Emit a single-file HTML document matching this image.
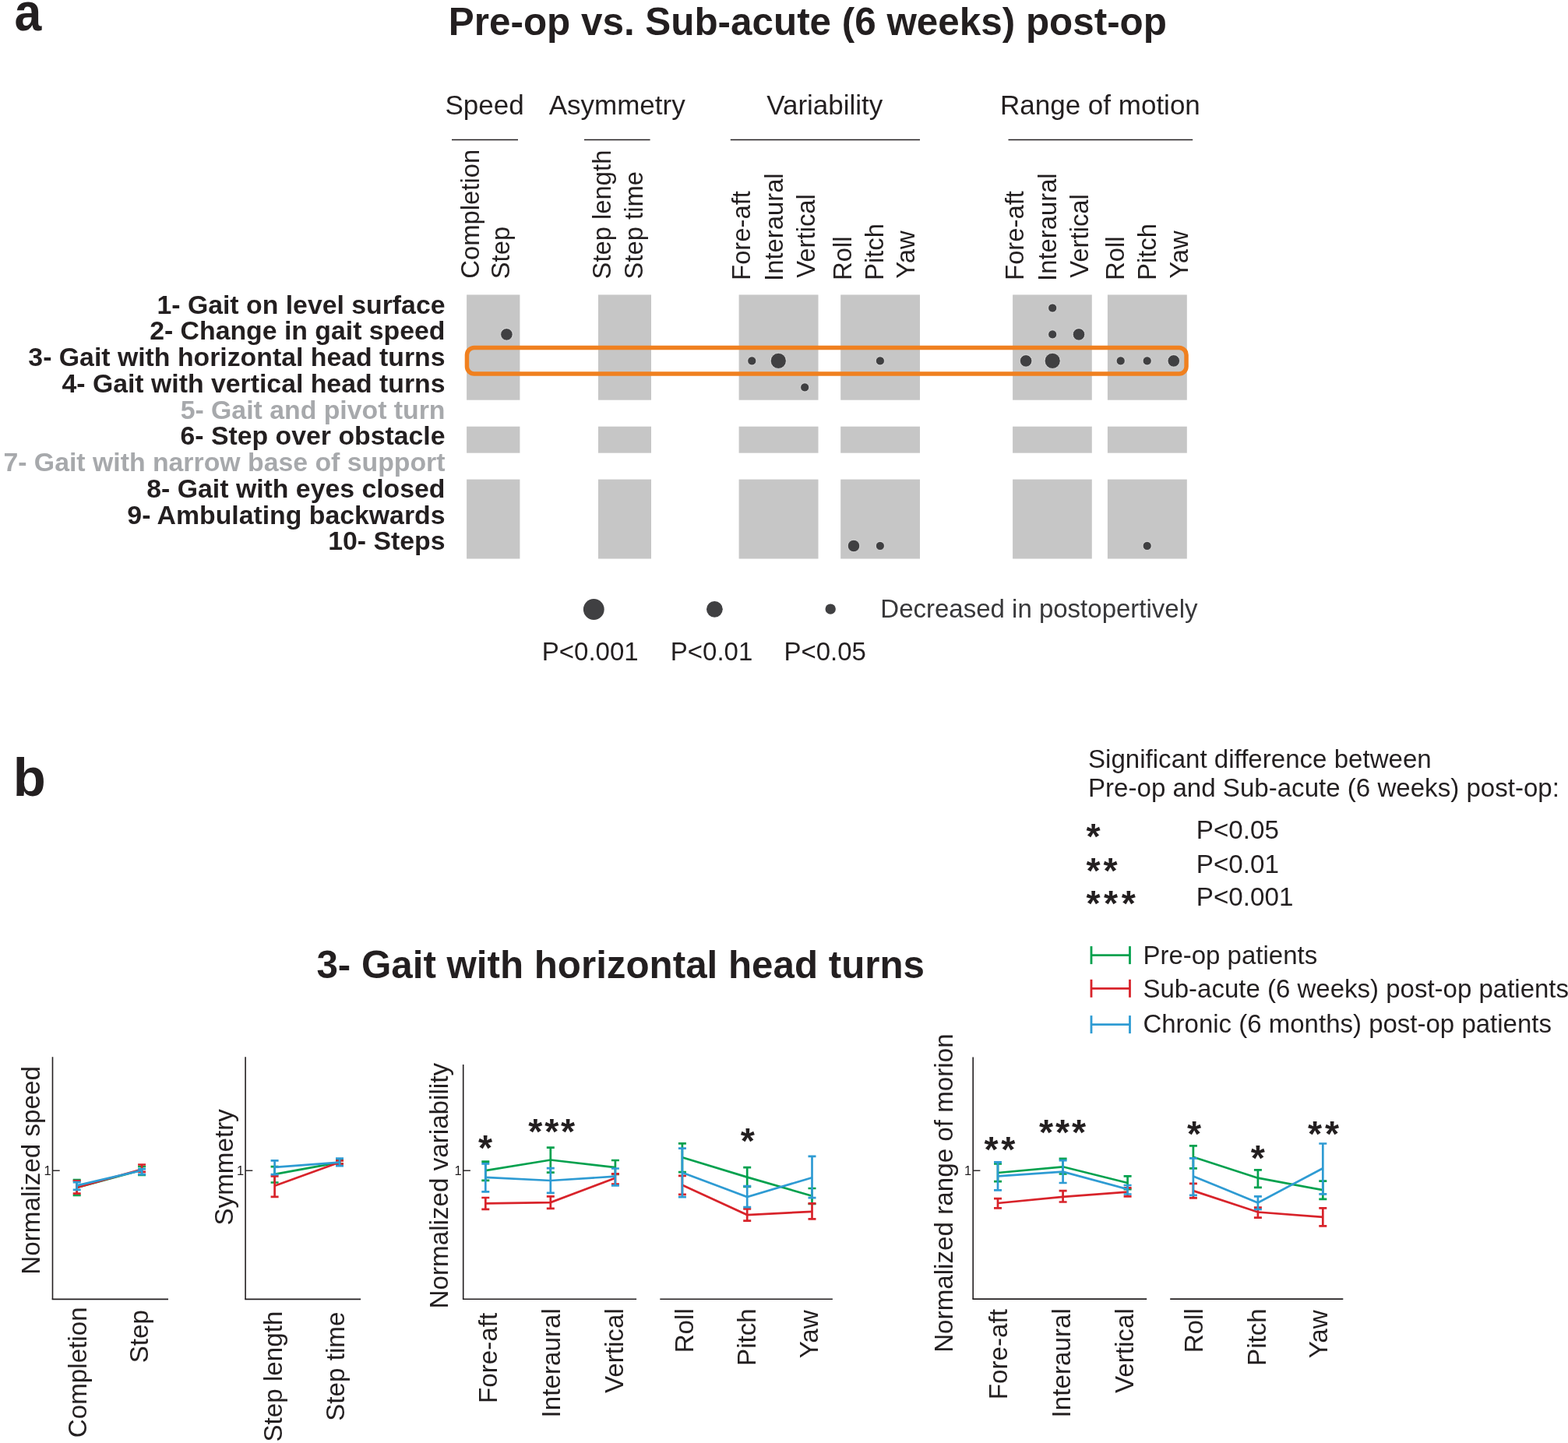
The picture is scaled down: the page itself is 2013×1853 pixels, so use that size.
<!DOCTYPE html>
<html><head><meta charset="utf-8"><title>Figure</title>
<style>html,body{margin:0;padding:0;background:#fff;overflow:hidden;width:2013px;height:1853px;}svg{display:block;}text{font-family:"Liberation Sans", Arial, sans-serif;}</style>
</head><body>
<svg width="2013" height="1853" viewBox="0 0 2013 1853">
<rect width="2013" height="1853" fill="#fff"/>
<text transform="translate(18.6,38.6) scale(0.935,1.03)" font-size="67" font-weight="bold" fill="#231f20">a</text>
<text x="575.8" y="45" font-size="49.4" font-weight="bold" fill="#231f20" text-anchor="start">Pre-op vs. Sub-acute (6 weeks) post-op</text>
<text x="571.5" y="147" font-size="35" font-weight="normal" fill="#231f20" text-anchor="start">Speed</text>
<text x="704.7" y="147" font-size="35" font-weight="normal" fill="#231f20" text-anchor="start">Asymmetry</text>
<text x="984.2" y="147" font-size="35" font-weight="normal" fill="#231f20" text-anchor="start">Variability</text>
<text x="1284" y="147" font-size="35" font-weight="normal" fill="#231f20" text-anchor="start">Range of motion</text>
<line x1="580" y1="179.4" x2="665" y2="179.4" stroke="#231f20" stroke-width="1.5"/>
<line x1="750" y1="179.4" x2="834.6" y2="179.4" stroke="#231f20" stroke-width="1.5"/>
<line x1="937.8" y1="179.4" x2="1181" y2="179.4" stroke="#231f20" stroke-width="1.5"/>
<line x1="1294.5" y1="179.4" x2="1531.2" y2="179.4" stroke="#231f20" stroke-width="1.5"/>
<text transform="translate(614.53,357.7) rotate(-90)" font-size="32.8" font-weight="normal" fill="#231f20" text-anchor="start">Completion</text>
<text transform="translate(653.93,358.3) rotate(-90)" font-size="32.8" font-weight="normal" fill="#231f20" text-anchor="start">Step</text>
<text transform="translate(783.93,358.5) rotate(-90)" font-size="32.8" font-weight="normal" fill="#231f20" text-anchor="start">Step length</text>
<text transform="translate(824.93,358.5) rotate(-90)" font-size="32.8" font-weight="normal" fill="#231f20" text-anchor="start">Step time</text>
<text transform="translate(963.33,359.9) rotate(-90)" font-size="32.8" font-weight="normal" fill="#231f20" text-anchor="start">Fore-aft</text>
<text transform="translate(1004.53,360.9) rotate(-90)" font-size="32.8" font-weight="normal" fill="#231f20" text-anchor="start">Interaural</text>
<text transform="translate(1045.93,356.7) rotate(-90)" font-size="32.8" font-weight="normal" fill="#231f20" text-anchor="start">Vertical</text>
<text transform="translate(1092.53,359.9) rotate(-90)" font-size="32.8" font-weight="normal" fill="#231f20" text-anchor="start">Roll</text>
<text transform="translate(1133.53,359.9) rotate(-90)" font-size="32.8" font-weight="normal" fill="#231f20" text-anchor="start">Pitch</text>
<text transform="translate(1173.53,357.7) rotate(-90)" font-size="32.8" font-weight="normal" fill="#231f20" text-anchor="start">Yaw</text>
<text transform="translate(1314.13,359.9) rotate(-90)" font-size="32.8" font-weight="normal" fill="#231f20" text-anchor="start">Fore-aft</text>
<text transform="translate(1356.33,360.9) rotate(-90)" font-size="32.8" font-weight="normal" fill="#231f20" text-anchor="start">Interaural</text>
<text transform="translate(1396.73,356.7) rotate(-90)" font-size="32.8" font-weight="normal" fill="#231f20" text-anchor="start">Vertical</text>
<text transform="translate(1443.33,359.9) rotate(-90)" font-size="32.8" font-weight="normal" fill="#231f20" text-anchor="start">Roll</text>
<text transform="translate(1484.33,359.9) rotate(-90)" font-size="32.8" font-weight="normal" fill="#231f20" text-anchor="start">Pitch</text>
<text transform="translate(1524.93,357.7) rotate(-90)" font-size="32.8" font-weight="normal" fill="#231f20" text-anchor="start">Yaw</text>
<text transform="translate(110.93,1678.4) rotate(-90)" font-size="33.2" font-weight="normal" fill="#231f20" text-anchor="end">Completion</text>
<text transform="translate(189.93,1682.0) rotate(-90)" font-size="33.2" font-weight="normal" fill="#231f20" text-anchor="end">Step</text>
<text transform="translate(361.93,1683.6) rotate(-90)" font-size="33.2" font-weight="normal" fill="#231f20" text-anchor="end">Step length</text>
<text transform="translate(442.33,1684.6) rotate(-90)" font-size="33.2" font-weight="normal" fill="#231f20" text-anchor="end">Step time</text>
<text transform="translate(638.13,1685.8) rotate(-90)" font-size="33.2" font-weight="normal" fill="#231f20" text-anchor="end">Fore-aft</text>
<text transform="translate(718.93,1680.2) rotate(-90)" font-size="33.2" font-weight="normal" fill="#231f20" text-anchor="end">Interaural</text>
<text transform="translate(799.53,1680.2) rotate(-90)" font-size="33.2" font-weight="normal" fill="#231f20" text-anchor="end">Vertical</text>
<text transform="translate(890.33,1680.2) rotate(-90)" font-size="33.2" font-weight="normal" fill="#231f20" text-anchor="end">Roll</text>
<text transform="translate(969.93,1680.2) rotate(-90)" font-size="33.2" font-weight="normal" fill="#231f20" text-anchor="end">Pitch</text>
<text transform="translate(1049.53,1682.2) rotate(-90)" font-size="33.2" font-weight="normal" fill="#231f20" text-anchor="end">Yaw</text>
<text transform="translate(1293.33,1681.0) rotate(-90)" font-size="33.2" font-weight="normal" fill="#231f20" text-anchor="end">Fore-aft</text>
<text transform="translate(1374.13,1680.2) rotate(-90)" font-size="33.2" font-weight="normal" fill="#231f20" text-anchor="end">Interaural</text>
<text transform="translate(1454.73,1680.2) rotate(-90)" font-size="33.2" font-weight="normal" fill="#231f20" text-anchor="end">Vertical</text>
<text transform="translate(1544.33,1680.2) rotate(-90)" font-size="33.2" font-weight="normal" fill="#231f20" text-anchor="end">Roll</text>
<text transform="translate(1624.73,1680.2) rotate(-90)" font-size="33.2" font-weight="normal" fill="#231f20" text-anchor="end">Pitch</text>
<text transform="translate(1703.53,1682.2) rotate(-90)" font-size="33.2" font-weight="normal" fill="#231f20" text-anchor="end">Yaw</text>
<text transform="translate(50.53,1502.9) rotate(-90)" font-size="33.2" font-weight="normal" fill="#231f20" text-anchor="middle">Normalized speed</text>
<text transform="translate(299.13,1498.9) rotate(-90)" font-size="33.2" font-weight="normal" fill="#231f20" text-anchor="middle">Symmetry</text>
<text transform="translate(574.93,1522.7) rotate(-90)" font-size="33.2" font-weight="normal" fill="#231f20" text-anchor="middle">Normalized variability</text>
<text transform="translate(1222.93,1532.1) rotate(-90)" font-size="33.2" font-weight="normal" fill="#231f20" text-anchor="middle">Normalized range of morion</text>
<rect x="599.1" y="378.5" width="68.3" height="135.2" fill="#c6c6c6"/>
<rect x="599.1" y="547.7" width="68.3" height="34.0" fill="#c6c6c6"/>
<rect x="599.1" y="615.6" width="68.3" height="101.9" fill="#c6c6c6"/>
<rect x="768" y="378.5" width="68.0" height="135.2" fill="#c6c6c6"/>
<rect x="768" y="547.7" width="68.0" height="34.0" fill="#c6c6c6"/>
<rect x="768" y="615.6" width="68.0" height="101.9" fill="#c6c6c6"/>
<rect x="948.6" y="378.5" width="101.9" height="135.2" fill="#c6c6c6"/>
<rect x="948.6" y="547.7" width="101.9" height="34.0" fill="#c6c6c6"/>
<rect x="948.6" y="615.6" width="101.9" height="101.9" fill="#c6c6c6"/>
<rect x="1079.2" y="378.5" width="101.8" height="135.2" fill="#c6c6c6"/>
<rect x="1079.2" y="547.7" width="101.8" height="34.0" fill="#c6c6c6"/>
<rect x="1079.2" y="615.6" width="101.8" height="101.9" fill="#c6c6c6"/>
<rect x="1300.1" y="378.5" width="101.7" height="135.2" fill="#c6c6c6"/>
<rect x="1300.1" y="547.7" width="101.7" height="34.0" fill="#c6c6c6"/>
<rect x="1300.1" y="615.6" width="101.7" height="101.9" fill="#c6c6c6"/>
<rect x="1421.9" y="378.5" width="101.9" height="135.2" fill="#c6c6c6"/>
<rect x="1421.9" y="547.7" width="101.9" height="34.0" fill="#c6c6c6"/>
<rect x="1421.9" y="615.6" width="101.9" height="101.9" fill="#c6c6c6"/>
<text x="571.5" y="402.6" font-size="33.8" font-weight="bold" fill="#231f20" text-anchor="end">1- Gait on level surface</text>
<text x="571.5" y="436.35" font-size="33.8" font-weight="bold" fill="#231f20" text-anchor="end">2- Change in gait speed</text>
<text x="571.5" y="470.1" font-size="33.8" font-weight="bold" fill="#231f20" text-anchor="end">3- Gait with horizontal head turns</text>
<text x="571.5" y="503.85" font-size="33.8" font-weight="bold" fill="#231f20" text-anchor="end">4- Gait with vertical head turns</text>
<text x="571.5" y="537.6" font-size="33.8" font-weight="bold" fill="#a7a9ac" text-anchor="end">5- Gait and pivot turn</text>
<text x="571.5" y="571.35" font-size="33.8" font-weight="bold" fill="#231f20" text-anchor="end">6- Step over obstacle</text>
<text x="571.5" y="605.1" font-size="33.8" font-weight="bold" fill="#a7a9ac" text-anchor="end">7- Gait with narrow base of support</text>
<text x="571.5" y="638.85" font-size="33.8" font-weight="bold" fill="#231f20" text-anchor="end">8- Gait with eyes closed</text>
<text x="571.5" y="672.6" font-size="33.8" font-weight="bold" fill="#231f20" text-anchor="end">9- Ambulating backwards</text>
<text x="571.5" y="706.35" font-size="33.8" font-weight="bold" fill="#231f20" text-anchor="end">10- Steps</text>
<circle cx="1351.2" cy="395.5" r="5.55" fill="#404042" stroke="#f4f4f4" stroke-width="0.7"/>
<circle cx="650.4" cy="429.4" r="7.75" fill="#404042" stroke="#f4f4f4" stroke-width="0.7"/>
<circle cx="1351.2" cy="429.4" r="5.55" fill="#404042" stroke="#f4f4f4" stroke-width="0.7"/>
<circle cx="1385" cy="429.4" r="7.75" fill="#404042" stroke="#f4f4f4" stroke-width="0.7"/>
<circle cx="965.3" cy="463.4" r="5.55" fill="#404042" stroke="#f4f4f4" stroke-width="0.7"/>
<circle cx="999.3" cy="463.4" r="10.049999999999999" fill="#404042" stroke="#f4f4f4" stroke-width="0.7"/>
<circle cx="1129.9" cy="463.4" r="5.55" fill="#404042" stroke="#f4f4f4" stroke-width="0.7"/>
<circle cx="1317.1" cy="463.4" r="7.75" fill="#404042" stroke="#f4f4f4" stroke-width="0.7"/>
<circle cx="1351.2" cy="463.4" r="10.049999999999999" fill="#404042" stroke="#f4f4f4" stroke-width="0.7"/>
<circle cx="1438.7" cy="463.4" r="5.55" fill="#404042" stroke="#f4f4f4" stroke-width="0.7"/>
<circle cx="1472.7" cy="463.4" r="5.55" fill="#404042" stroke="#f4f4f4" stroke-width="0.7"/>
<circle cx="1506.8" cy="463.4" r="7.75" fill="#404042" stroke="#f4f4f4" stroke-width="0.7"/>
<circle cx="1033.2" cy="497.4" r="5.55" fill="#404042" stroke="#f4f4f4" stroke-width="0.7"/>
<circle cx="1096" cy="701.0" r="7.75" fill="#404042" stroke="#f4f4f4" stroke-width="0.7"/>
<circle cx="1129.9" cy="701.0" r="5.55" fill="#404042" stroke="#f4f4f4" stroke-width="0.7"/>
<circle cx="1472.7" cy="701.0" r="5.55" fill="#404042" stroke="#f4f4f4" stroke-width="0.7"/>
<rect x="599.45" y="446.6" width="923.6" height="33.35" rx="9.2" ry="9.2" fill="none" stroke="#f0801f" stroke-width="5.5"/>
<circle cx="762.3" cy="782.5" r="13.4" fill="#404042"/>
<circle cx="917.4" cy="782.3" r="10.4" fill="#404042"/>
<circle cx="1066.2" cy="782.1" r="6.7" fill="#404042"/>
<text x="1130.3" y="793.3" font-size="33" font-weight="normal" fill="#38383a" text-anchor="start">Decreased in postopertively</text>
<text x="695.8" y="848" font-size="33" font-weight="normal" fill="#231f20" text-anchor="start">P&lt;0.001</text>
<text x="860.8" y="848" font-size="33" font-weight="normal" fill="#231f20" text-anchor="start">P&lt;0.01</text>
<text x="1006.4" y="848" font-size="33" font-weight="normal" fill="#231f20" text-anchor="start">P&lt;0.05</text>
<text transform="translate(16.8,1022.2) scale(1.027,1.016)" font-size="67" font-weight="bold" fill="#231f20">b</text>
<text x="1397" y="986.4" font-size="33.1" font-weight="normal" fill="#231f20" text-anchor="start">Significant difference between</text>
<text x="1397" y="1022.6" font-size="33.1" font-weight="normal" fill="#231f20" text-anchor="start">Pre-op and Sub-acute (6 weeks) post-op:</text>
<text x="1535.8" y="1077" font-size="33.2" font-weight="normal" fill="#231f20" text-anchor="start">P&lt;0.05</text>
<text x="1535.8" y="1121" font-size="33.2" font-weight="normal" fill="#231f20" text-anchor="start">P&lt;0.01</text>
<text x="1535.8" y="1162.5" font-size="33.2" font-weight="normal" fill="#231f20" text-anchor="start">P&lt;0.001</text>
<line x1="1401" y1="1226.6" x2="1450.5" y2="1226.6" stroke="#03a14e" stroke-width="2.7"/>
<line x1="1401" y1="1215.1" x2="1401" y2="1238.1" stroke="#03a14e" stroke-width="2.8"/>
<line x1="1450.5" y1="1215.1" x2="1450.5" y2="1238.1" stroke="#03a14e" stroke-width="2.8"/>
<text x="1467.4" y="1237.8" font-size="33" font-weight="normal" fill="#231f20" text-anchor="start">Pre-op patients</text>
<line x1="1401" y1="1269.3" x2="1450.5" y2="1269.3" stroke="#d8232a" stroke-width="2.7"/>
<line x1="1401" y1="1257.8" x2="1401" y2="1280.8" stroke="#d8232a" stroke-width="2.8"/>
<line x1="1450.5" y1="1257.8" x2="1450.5" y2="1280.8" stroke="#d8232a" stroke-width="2.8"/>
<text x="1467.4" y="1281" font-size="33" font-weight="normal" fill="#231f20" text-anchor="start">Sub-acute (6 weeks) post-op patients</text>
<line x1="1401" y1="1315.6" x2="1450.5" y2="1315.6" stroke="#2e9bd3" stroke-width="2.7"/>
<line x1="1401" y1="1304.1" x2="1401" y2="1327.1" stroke="#2e9bd3" stroke-width="2.8"/>
<line x1="1450.5" y1="1304.1" x2="1450.5" y2="1327.1" stroke="#2e9bd3" stroke-width="2.8"/>
<text x="1467.4" y="1325.8" font-size="33" font-weight="normal" fill="#231f20" text-anchor="start">Chronic (6 months) post-op patients</text>
<text x="406.4" y="1255.6" font-size="49.3" font-weight="bold" fill="#231f20" text-anchor="start">3- Gait with horizontal head turns</text>
<line x1="67.5" y1="1357.2" x2="67.5" y2="1668.4" stroke="#231f20" stroke-width="1.6"/>
<line x1="66.7" y1="1668.4" x2="216" y2="1668.4" stroke="#231f20" stroke-width="1.6"/>
<line x1="67.5" y1="1503.2" x2="76.7" y2="1503.2" stroke="#231f20" stroke-width="1.4"/>
<text x="65.6" y="1509.2" font-size="16.5" font-weight="normal" fill="#231f20" text-anchor="end">1</text>
<polyline points="98.7,1525 182.1,1502.5" fill="none" stroke="#03a14e" stroke-width="2.7" stroke-linejoin="miter"/>
<path d="M98.7,1515.2V1535M93.7,1515.2H103.7M93.7,1535H103.7" fill="none" stroke="#03a14e" stroke-width="2.7"/>
<path d="M182.1,1498V1508.9M177.1,1498H187.1M177.1,1508.9H187.1" fill="none" stroke="#03a14e" stroke-width="2.7"/>
<polyline points="98.7,1525 182.1,1501.5" fill="none" stroke="#d8232a" stroke-width="2.7" stroke-linejoin="miter"/>
<path d="M98.7,1516.4V1532.7M93.7,1516.4H103.7M93.7,1532.7H103.7" fill="none" stroke="#d8232a" stroke-width="2.7"/>
<path d="M182.1,1495.5V1504.9M177.1,1495.5H187.1M177.1,1504.9H187.1" fill="none" stroke="#d8232a" stroke-width="2.7"/>
<polyline points="98.7,1522.4 182.1,1502.9" fill="none" stroke="#2e9bd3" stroke-width="2.7" stroke-linejoin="miter"/>
<path d="M98.7,1518.1V1527.8M93.7,1518.1H103.7M93.7,1527.8H103.7" fill="none" stroke="#2e9bd3" stroke-width="2.7"/>
<path d="M182.1,1501.2V1508.1M177.1,1501.2H187.1M177.1,1508.1H187.1" fill="none" stroke="#2e9bd3" stroke-width="2.7"/>
<line x1="315.1" y1="1357.2" x2="315.1" y2="1668.4" stroke="#231f20" stroke-width="1.6"/>
<line x1="314.3" y1="1668.4" x2="463.1" y2="1668.4" stroke="#231f20" stroke-width="1.6"/>
<line x1="315.1" y1="1503.2" x2="324.3" y2="1503.2" stroke="#231f20" stroke-width="1.4"/>
<text x="313.20000000000005" y="1509.2" font-size="16.5" font-weight="normal" fill="#231f20" text-anchor="end">1</text>
<polyline points="352.6,1507.9 436,1492.6" fill="none" stroke="#03a14e" stroke-width="2.7" stroke-linejoin="miter"/>
<path d="M352.6,1498.2V1518.5M347.6,1498.2H357.6M347.6,1518.5H357.6" fill="none" stroke="#03a14e" stroke-width="2.7"/>
<path d="M436,1490V1494.4M431,1490H441M431,1494.4H441" fill="none" stroke="#03a14e" stroke-width="2.7"/>
<polyline points="352.6,1522.8 436,1492.6" fill="none" stroke="#d8232a" stroke-width="2.7" stroke-linejoin="miter"/>
<path d="M352.6,1510.3V1536.9M347.6,1510.3H357.6M347.6,1536.9H357.6" fill="none" stroke="#d8232a" stroke-width="2.7"/>
<path d="M436,1490.5V1494.7M431,1490.5H441M431,1494.7H441" fill="none" stroke="#d8232a" stroke-width="2.7"/>
<polyline points="352.6,1498.9 436,1492.6" fill="none" stroke="#2e9bd3" stroke-width="2.7" stroke-linejoin="miter"/>
<path d="M352.6,1490.4V1508.2M347.6,1490.4H357.6M347.6,1508.2H357.6" fill="none" stroke="#2e9bd3" stroke-width="2.7"/>
<path d="M436,1487.6V1497.2M431,1487.6H441M431,1497.2H441" fill="none" stroke="#2e9bd3" stroke-width="2.7"/>
<line x1="594.7" y1="1366.9" x2="594.7" y2="1668.2" stroke="#231f20" stroke-width="1.6"/>
<line x1="593.9000000000001" y1="1668.2" x2="817.1" y2="1668.2" stroke="#231f20" stroke-width="1.6"/>
<line x1="594.7" y1="1503.2" x2="603.9000000000001" y2="1503.2" stroke="#231f20" stroke-width="1.4"/>
<text x="592.8000000000001" y="1509.2" font-size="16.5" font-weight="normal" fill="#231f20" text-anchor="end">1</text>
<line x1="847.3" y1="1668.2" x2="1068.9" y2="1668.2" stroke="#231f20" stroke-width="1.6"/>
<polyline points="623.3,1503.2 706.8,1489.5 789.9,1499.1" fill="none" stroke="#03a14e" stroke-width="2.7" stroke-linejoin="miter"/>
<path d="M623.3,1491.7V1515.8M618.3,1491.7H628.3M618.3,1515.8H628.3" fill="none" stroke="#03a14e" stroke-width="2.7"/>
<path d="M706.8,1473.6V1505.6M701.8,1473.6H711.8M701.8,1505.6H711.8" fill="none" stroke="#03a14e" stroke-width="2.7"/>
<path d="M789.9,1490V1508M784.9,1490H794.9M784.9,1508H794.9" fill="none" stroke="#03a14e" stroke-width="2.7"/>
<polyline points="875.9,1486.3 959.2,1511.6 1042.5,1535.7" fill="none" stroke="#03a14e" stroke-width="2.7" stroke-linejoin="miter"/>
<path d="M875.9,1468.3V1505.2M870.9,1468.3H880.9M870.9,1505.2H880.9" fill="none" stroke="#03a14e" stroke-width="2.7"/>
<path d="M959.2,1499.1V1523.8M954.2,1499.1H964.2M954.2,1523.8H964.2" fill="none" stroke="#03a14e" stroke-width="2.7"/>
<path d="M1042.5,1526V1546M1037.5,1526H1047.5M1037.5,1546H1047.5" fill="none" stroke="#03a14e" stroke-width="2.7"/>
<polyline points="623.3,1545.4 706.8,1544.1 789.9,1512.7" fill="none" stroke="#d8232a" stroke-width="2.7" stroke-linejoin="miter"/>
<path d="M623.3,1538V1552.9M618.3,1538H628.3M618.3,1552.9H628.3" fill="none" stroke="#d8232a" stroke-width="2.7"/>
<path d="M706.8,1536.4V1551.9M701.8,1536.4H711.8M701.8,1551.9H711.8" fill="none" stroke="#d8232a" stroke-width="2.7"/>
<path d="M789.9,1507.4V1520.5M784.9,1507.4H794.9M784.9,1520.5H794.9" fill="none" stroke="#d8232a" stroke-width="2.7"/>
<polyline points="875.9,1521.8 959.2,1560.1 1042.5,1555.8" fill="none" stroke="#d8232a" stroke-width="2.7" stroke-linejoin="miter"/>
<path d="M875.9,1509.9V1533.8M870.9,1509.9H880.9M870.9,1533.8H880.9" fill="none" stroke="#d8232a" stroke-width="2.7"/>
<path d="M959.2,1552.4V1567.7M954.2,1552.4H964.2M954.2,1567.7H964.2" fill="none" stroke="#d8232a" stroke-width="2.7"/>
<path d="M1042.5,1545.4V1565.4M1037.5,1545.4H1047.5M1037.5,1565.4H1047.5" fill="none" stroke="#d8232a" stroke-width="2.7"/>
<polyline points="623.3,1511.8 706.8,1516 789.9,1510.7" fill="none" stroke="#2e9bd3" stroke-width="2.7" stroke-linejoin="miter"/>
<path d="M623.3,1494.3V1530.4M618.3,1494.3H628.3M618.3,1530.4H628.3" fill="none" stroke="#2e9bd3" stroke-width="2.7"/>
<path d="M706.8,1500.1V1531.8M701.8,1500.1H711.8M701.8,1531.8H711.8" fill="none" stroke="#2e9bd3" stroke-width="2.7"/>
<path d="M789.9,1500.5V1522.4M784.9,1500.5H794.9M784.9,1522.4H794.9" fill="none" stroke="#2e9bd3" stroke-width="2.7"/>
<polyline points="875.9,1505.7 959.2,1537 1042.5,1512.2" fill="none" stroke="#2e9bd3" stroke-width="2.7" stroke-linejoin="miter"/>
<path d="M875.9,1474.6V1537.1M870.9,1474.6H880.9M870.9,1537.1H880.9" fill="none" stroke="#2e9bd3" stroke-width="2.7"/>
<path d="M959.2,1523.2V1550.2M954.2,1523.2H964.2M954.2,1550.2H964.2" fill="none" stroke="#2e9bd3" stroke-width="2.7"/>
<path d="M1042.5,1484.9V1538.2M1037.5,1484.9H1047.5M1037.5,1538.2H1047.5" fill="none" stroke="#2e9bd3" stroke-width="2.7"/>
<line x1="1249.2" y1="1357.5" x2="1249.2" y2="1668.1" stroke="#231f20" stroke-width="1.6"/>
<line x1="1248.4" y1="1668.1" x2="1472.2" y2="1668.1" stroke="#231f20" stroke-width="1.6"/>
<line x1="1249.2" y1="1503.2" x2="1258.4" y2="1503.2" stroke="#231f20" stroke-width="1.4"/>
<text x="1247.3" y="1509.2" font-size="16.5" font-weight="normal" fill="#231f20" text-anchor="end">1</text>
<line x1="1502.2" y1="1668.1" x2="1724.3" y2="1668.1" stroke="#231f20" stroke-width="1.6"/>
<polyline points="1281,1506 1364.6,1498.3 1447.6,1519" fill="none" stroke="#03a14e" stroke-width="2.7" stroke-linejoin="miter"/>
<path d="M1281,1494.5V1517.2M1276,1494.5H1286M1276,1517.2H1286" fill="none" stroke="#03a14e" stroke-width="2.7"/>
<path d="M1364.6,1487.9V1507.5M1359.6,1487.9H1369.6M1359.6,1507.5H1369.6" fill="none" stroke="#03a14e" stroke-width="2.7"/>
<path d="M1447.6,1510.4V1527.1M1442.6,1510.4H1452.6M1442.6,1527.1H1452.6" fill="none" stroke="#03a14e" stroke-width="2.7"/>
<polyline points="1531.9,1485.8 1614.9,1512.7 1698.3,1528.2" fill="none" stroke="#03a14e" stroke-width="2.7" stroke-linejoin="miter"/>
<path d="M1531.9,1471.4V1500.3M1526.9,1471.4H1536.9M1526.9,1500.3H1536.9" fill="none" stroke="#03a14e" stroke-width="2.7"/>
<path d="M1614.9,1502.3V1524.8M1609.9,1502.3H1619.9M1609.9,1524.8H1619.9" fill="none" stroke="#03a14e" stroke-width="2.7"/>
<path d="M1698.3,1516.7V1539.8M1693.3,1516.7H1703.3M1693.3,1539.8H1703.3" fill="none" stroke="#03a14e" stroke-width="2.7"/>
<polyline points="1281,1545 1364.6,1536.9 1447.6,1530.6" fill="none" stroke="#d8232a" stroke-width="2.7" stroke-linejoin="miter"/>
<path d="M1281,1539.2V1551.3M1276,1539.2H1286M1276,1551.3H1286" fill="none" stroke="#d8232a" stroke-width="2.7"/>
<path d="M1364.6,1529.1V1543.5M1359.6,1529.1H1369.6M1359.6,1543.5H1369.6" fill="none" stroke="#d8232a" stroke-width="2.7"/>
<path d="M1447.6,1525.4V1536.3M1442.6,1525.4H1452.6M1442.6,1536.3H1452.6" fill="none" stroke="#d8232a" stroke-width="2.7"/>
<polyline points="1531.9,1529.1 1614.9,1556.5 1698.3,1562.9" fill="none" stroke="#d8232a" stroke-width="2.7" stroke-linejoin="miter"/>
<path d="M1531.9,1519.9V1538.3M1526.9,1519.9H1536.9M1526.9,1538.3H1536.9" fill="none" stroke="#d8232a" stroke-width="2.7"/>
<path d="M1614.9,1550.7V1563.7M1609.9,1550.7H1619.9M1609.9,1563.7H1619.9" fill="none" stroke="#d8232a" stroke-width="2.7"/>
<path d="M1698.3,1551.3V1574.4M1693.3,1551.3H1703.3M1693.3,1574.4H1703.3" fill="none" stroke="#d8232a" stroke-width="2.7"/>
<polyline points="1281,1510.4 1364.6,1504.6 1447.6,1527.1" fill="none" stroke="#2e9bd3" stroke-width="2.7" stroke-linejoin="miter"/>
<path d="M1281,1492.3V1528.3M1276,1492.3H1286M1276,1528.3H1286" fill="none" stroke="#2e9bd3" stroke-width="2.7"/>
<path d="M1364.6,1490.2V1519M1359.6,1490.2H1369.6M1359.6,1519H1369.6" fill="none" stroke="#2e9bd3" stroke-width="2.7"/>
<path d="M1447.6,1522V1533.5M1442.6,1522H1452.6M1442.6,1533.5H1452.6" fill="none" stroke="#2e9bd3" stroke-width="2.7"/>
<polyline points="1531.9,1510.4 1614.9,1544.4 1698.3,1500.3" fill="none" stroke="#2e9bd3" stroke-width="2.7" stroke-linejoin="miter"/>
<path d="M1531.9,1487.3V1534.9M1526.9,1487.3H1536.9M1526.9,1534.9H1536.9" fill="none" stroke="#2e9bd3" stroke-width="2.7"/>
<path d="M1614.9,1536.3V1553M1609.9,1536.3H1619.9M1609.9,1553H1619.9" fill="none" stroke="#2e9bd3" stroke-width="2.7"/>
<path d="M1698.3,1468.5V1533.4M1693.3,1468.5H1703.3M1693.3,1533.4H1703.3" fill="none" stroke="#2e9bd3" stroke-width="2.7"/>
<text x="614.0" y="1489.7" font-size="46.5" font-weight="bold" fill="#231f20">*</text>
<text x="678.3 699.2 720.1" y="1469.0" font-size="46.5" font-weight="bold" fill="#231f20">***</text>
<text x="950.8" y="1481.2" font-size="46.5" font-weight="bold" fill="#231f20">*</text>
<text x="1263.5 1285.3" y="1492.4" font-size="46.5" font-weight="bold" fill="#231f20">**</text>
<text x="1333.9 1354.9 1375.9" y="1470.0" font-size="46.5" font-weight="bold" fill="#231f20">***</text>
<text x="1523.9" y="1471.8" font-size="46.5" font-weight="bold" fill="#231f20">*</text>
<text x="1605.7" y="1503.3" font-size="46.5" font-weight="bold" fill="#231f20">*</text>
<text x="1678.9 1701.1" y="1471.8" font-size="46.5" font-weight="bold" fill="#231f20">**</text>
<text x="1394.4" y="1089.9" font-size="46.5" font-weight="bold" fill="#231f20">*</text>
<text x="1394.4 1416.5" y="1133.9" font-size="46.5" font-weight="bold" fill="#231f20">**</text>
<text x="1394.4 1417.1 1439.8" y="1176.0" font-size="46.5" font-weight="bold" fill="#231f20">***</text>
</svg>
</body></html>
